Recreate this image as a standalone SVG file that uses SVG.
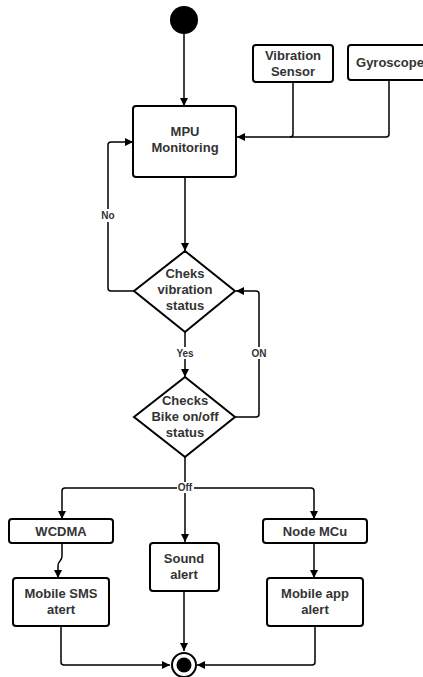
<svg xmlns="http://www.w3.org/2000/svg" width="423" height="677" viewBox="0 0 423 677">
<style>
.box{fill:#fff;stroke:#000;stroke-width:2}
.t{font-family:"Liberation Sans",Arial,sans-serif;font-weight:bold;font-size:13px;fill:#333;text-anchor:middle}
.l{font-family:"Liberation Sans",Arial,sans-serif;font-weight:bold;font-size:10px;fill:#333;text-anchor:middle}
.c{fill:none;stroke:#000;stroke-width:1.5}
.lb{fill:#fff}
</style>
<defs>
<marker id="a" viewBox="0 0 10 10" refX="10" refY="5" markerWidth="8" markerHeight="8" markerUnits="userSpaceOnUse" orient="auto">
<path d="M0,0 L10,5 L0,10 z" fill="#000"/>
</marker>
</defs>
<rect width="423" height="677" fill="#fff"/>
<g id="connectors">
<path class="c" d="M184,34 V106" marker-end="url(#a)"/>
<path class="c" d="M293,82 V134 Q293,137 290,137"/>
<path class="c" d="M389,80 V134 Q389,137 386,137 H237" marker-end="url(#a)"/>
<path class="c" d="M185,177 V251" marker-end="url(#a)"/>
<path class="c" d="M134,291 H111 Q108,291 108,288 V145 Q108,142 111,142 H133" marker-end="url(#a)"/>
<path class="c" d="M185,332 V377" marker-end="url(#a)"/>
<path class="c" d="M235,417 H256 Q259,417 259,414 V294 Q259,291 256,291 H236" marker-end="url(#a)"/>
<path class="c" d="M185,457 V542" marker-end="url(#a)"/>
<path class="c" d="M185,488 H65 Q62,488 62,491 V519" marker-end="url(#a)"/>
<path class="c" d="M185,488 H311 Q314,488 314,491 V519" marker-end="url(#a)"/>
<path class="c" d="M62,543 V556 Q62,559 60,561 Q58,563 58,566 V578" marker-end="url(#a)"/>
<path class="c" d="M314,543 V578" marker-end="url(#a)"/>
<path class="c" d="M184,591 V651" marker-end="url(#a)"/>
<path class="c" d="M61,626 V662 Q61,665 64,665 H170" marker-end="url(#a)"/>
<path class="c" d="M315,626 V662 Q315,665 312,665 H197" marker-end="url(#a)"/>
<rect class="lb" x="99" y="209" width="18" height="13"/>
<text class="l" x="108" y="219">No</text>
<rect class="lb" x="175" y="347" width="20" height="12"/>
<text class="l" x="185" y="357">Yes</text>
<rect class="lb" x="250" y="347" width="19" height="12"/>
<text class="l" x="259" y="357">ON</text>
<rect class="lb" x="177" y="482" width="17" height="11"/>
<text class="l" x="185" y="491">Off</text>
</g>
<g id="start"><circle cx="184" cy="20" r="14" fill="#000"/></g>
<g id="vibration-sensor">
<rect class="box" x="253" y="45" width="80" height="37" rx="3"/>
<text class="t" x="293" y="60">Vibration</text>
<text class="t" x="293" y="76">Sensor</text>
</g>
<g id="gyroscope">
<rect class="box" x="348" y="45" width="84" height="35" rx="3"/>
<text class="t" x="390" y="67">Gyroscope</text>
</g>
<g id="mpu">
<rect class="box" x="133" y="106" width="103" height="71" rx="3"/>
<text class="t" x="185" y="136">MPU</text>
<text class="t" x="185" y="152">Monitoring</text>
</g>
<g id="check-vibration">
<path class="box" d="M185,251 L235,291 L185,332 L134,291 z"/>
<text class="t" x="185" y="278">Cheks</text>
<text class="t" x="185" y="294">vibration</text>
<text class="t" x="185" y="310">status</text>
</g>
<g id="check-bike">
<path class="box" d="M185,377 L235,417 L185,457 L134,417 z"/>
<text class="t" x="185" y="405">Checks</text>
<text class="t" x="185" y="421">Bike on/off</text>
<text class="t" x="185" y="437">status</text>
</g>
<g id="wcdma">
<rect class="box" x="9" y="519" width="104" height="24" rx="3"/>
<text class="t" x="61" y="536">WCDMA</text>
</g>
<g id="sound-alert">
<rect class="box" x="150" y="543" width="69" height="48" rx="3"/>
<text class="t" x="184" y="563">Sound</text>
<text class="t" x="184" y="579">alert</text>
</g>
<g id="node-mcu">
<rect class="box" x="263" y="519" width="104" height="24" rx="3"/>
<text class="t" x="315" y="536">Node MCu</text>
</g>
<g id="mobile-sms">
<rect class="box" x="13" y="578" width="96" height="48" rx="3"/>
<text class="t" x="61" y="598">Mobile SMS</text>
<text class="t" x="61" y="614">atert</text>
</g>
<g id="mobile-app">
<rect class="box" x="267" y="578" width="96" height="48" rx="3"/>
<text class="t" x="315" y="598">Mobile app</text>
<text class="t" x="315" y="614">alert</text>
</g>
<g id="end">
<circle cx="184" cy="665" r="12" fill="#fff" stroke="#000" stroke-width="2"/>
<circle cx="184" cy="665" r="7.5" fill="#000"/>
</g>
</svg>
